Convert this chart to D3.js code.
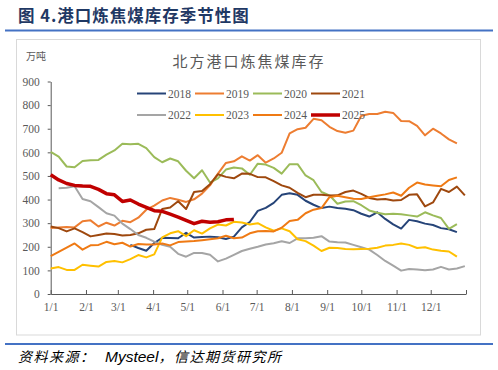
<!DOCTYPE html>
<html><head><meta charset="utf-8">
<script src="https://cdn.jsdelivr.net/npm/d3@7/dist/d3.min.js"></script>
<style>body{margin:0;background:#fff;}svg{display:block;}</style>
</head><body>
<svg id="c" width="498" height="370"></svg>
<script>
const years = ["2018","2019","2020","2021","2022","2023","2024","2025"];
const colors = ["#264478","#ED7D31","#9BBB59","#9E480E","#A5A5A5","#FFC000","#EF7A14","#C00000"];
const monthLabels = ["1/1","2/1","3/1","4/1","5/1","6/1","7/1","8/1","9/1","10/1","11/1","12/1"];
const monthDays = [0,31,59,90,120,151,181,212,243,273,304,334];
const yTicks = [0,100,200,300,400,500,600,700,800,900];

const s2018 = [null,null,null,null,null,null,null,null,null,null,
  208,195,183,216,238,237,236,259,239,241,243,240,233,243,282,305,352,365,386,420,
  427,420,395,378,364,370,364,361,355,340,328,346,318,295,277,314,308,298,292,279,274,262];
const s2019 = [280,282,284,282,308,312,286,302,290,310,304,323,357,374,396,407,399,390,401,425,
  460,510,555,562,583,565,588,556,574,598,680,698,704,742,736,708,690,683,692,755,
  762,762,772,767,733,732,712,672,700,680,655,638];
const s2020 = [602,582,540,537,563,566,568,590,608,636,634,636,618,580,558,574,562,522,490,524,
  472,490,527,536,532,505,552,548,534,510,550,550,502,482,432,418,382,392,393,376,
  354,344,338,340,338,333,328,346,333,322,276,296];
const s2021 = [286,279,265,278,262,244,250,256,254,248,250,257,272,275,360,366,393,360,432,436,
  465,507,496,490,510,509,495,494,478,460,450,428,410,420,420,417,418,432,438,424,
  407,400,402,396,398,420,422,371,388,445,432,455,418];
const s2022 = [null,448,450,456,402,393,368,342,332,298,275,250,238,222,208,200,170,158,174,174,
  166,138,150,166,182,192,200,210,215,223,216,236,236,238,245,222,219,218,208,198,
  188,165,140,120,99,106,104,101,104,115,104,108,118];
const s2023 = [108,114,102,102,124,120,116,136,140,134,148,165,155,168,240,257,266,245,270,256,
  278,294,290,306,303,294,300,282,268,278,266,232,224,205,182,196,195,191,190,191,
  192,196,205,208,214,208,195,198,188,183,180,158];
const s2024 = [160,178,196,214,188,206,208,221,211,217,201,212,210,210,214,206,220,222,224,228,
  232,236,247,236,239,257,266,267,265,281,309,314,342,357,364,410,416,410,403,402,
  410,416,422,430,416,450,472,464,460,456,483,494];
const s2025 = [505,483,468,460,457,456,443,425,420,392,398,381,367,353,350,338,326,312,298,308,
  304,306,314,316];
const series = [s2018,s2019,s2020,s2021,s2022,s2023,s2024,s2025];

const svg = d3.select("#c");
const grey = "#595959";

// header
svg.append("text").attr("x",18).attr("y",22)
  .attr("font-family","'Noto Sans CJK SC',sans-serif").attr("font-weight","bold")
  .attr("font-size",16.5).attr("letter-spacing",1).attr("fill","#1F3864").text("图 4.港口炼焦煤库存季节性图");
svg.append("rect").attr("x",5).attr("y",29.5).attr("width",488).attr("height",2).attr("fill","#4472C4");

// frame
svg.append("rect").attr("x",16.5).attr("y",39.5).attr("width",464).attr("height",295.5)
  .attr("fill","none").attr("stroke","#D9D9D9").attr("stroke-width",1);

// chart title
svg.append("text").attr("x",249).attr("y",67).attr("text-anchor","middle")
  .attr("font-family","'Noto Sans CJK SC',sans-serif").attr("font-size",15)
  .attr("letter-spacing",2).attr("fill",grey).text("北方港口炼焦煤库存");

svg.append("text").attr("x",26).attr("y",60)
  .attr("font-family","'Noto Sans CJK SC',sans-serif").attr("font-size",10)
  .attr("fill",grey).text("万吨");

const x = d3.scaleLinear().domain([0,365]).range([50.7,466]);
const y = d3.scaleLinear().domain([0,900]).range([294,81.5]);

const yAxis = d3.axisLeft(y).tickValues(yTicks).tickSizeInner(3).tickSizeOuter(0).tickPadding(8);
const gy = svg.append("g").attr("transform","translate(50.7,0)").call(yAxis);
const xAxis = d3.axisBottom(x).tickValues(monthDays.concat([365])).tickSizeInner(-4).tickSizeOuter(0).tickPadding(9)
  .tickFormat((d,i)=> i<monthLabels.length ? monthLabels[i] : "");
const gx = svg.append("g").attr("transform","translate(0,294)").call(xAxis);
[gx,gy].forEach(g=>{
  g.selectAll("path,line").attr("stroke",grey).attr("stroke-width",1);
  g.selectAll("text").attr("fill",grey).attr("font-family","'Liberation Serif',serif").attr("font-size",11.5);
});

// lines
const line = d3.line().defined(d=>d!=null).x((d,i)=>x(i*7)).y(d=>y(d));
series.forEach((s,k)=>{
  svg.append("path").datum(s).attr("d",line).attr("fill","none")
    .attr("stroke",colors[k]).attr("stroke-width",k===7?3.5:2)
    .attr("stroke-linejoin","round");
});

// legend
const lg = svg.append("g");
years.forEach((yr,k)=>{
  const col = k%4, row = Math.floor(k/4);
  const lx = 137 + col*58, ly = 93.5 + row*21.5;
  lg.append("line").attr("x1",lx).attr("x2",lx+29).attr("y1",ly).attr("y2",ly)
    .attr("stroke",colors[k]).attr("stroke-width",k===7?3.5:2);
  lg.append("text").attr("x",lx+31).attr("y",ly+4)
    .attr("font-family","'Liberation Serif',serif").attr("font-size",11.5)
    .attr("fill",grey).text(yr);
});

// footer
svg.append("rect").attr("x",5).attr("y",343).attr("width",488).attr("height",2).attr("fill","#4472C4");
const ft = svg.append("text").attr("x",18).attr("y",362).attr("font-style","italic").attr("fill","#000");
ft.append("tspan").attr("font-family","'Noto Sans CJK SC',sans-serif").attr("font-size",14).attr("letter-spacing",1.5).text("资料来源：");
ft.append("tspan").attr("x",105).attr("font-family","'Liberation Sans',sans-serif").attr("font-size",15.5).text("Mysteel");
ft.append("tspan").attr("font-family","'Noto Sans CJK SC',sans-serif").attr("font-size",14).attr("letter-spacing",1.5).text("，信达期货研究所");
</script>
</body></html>
